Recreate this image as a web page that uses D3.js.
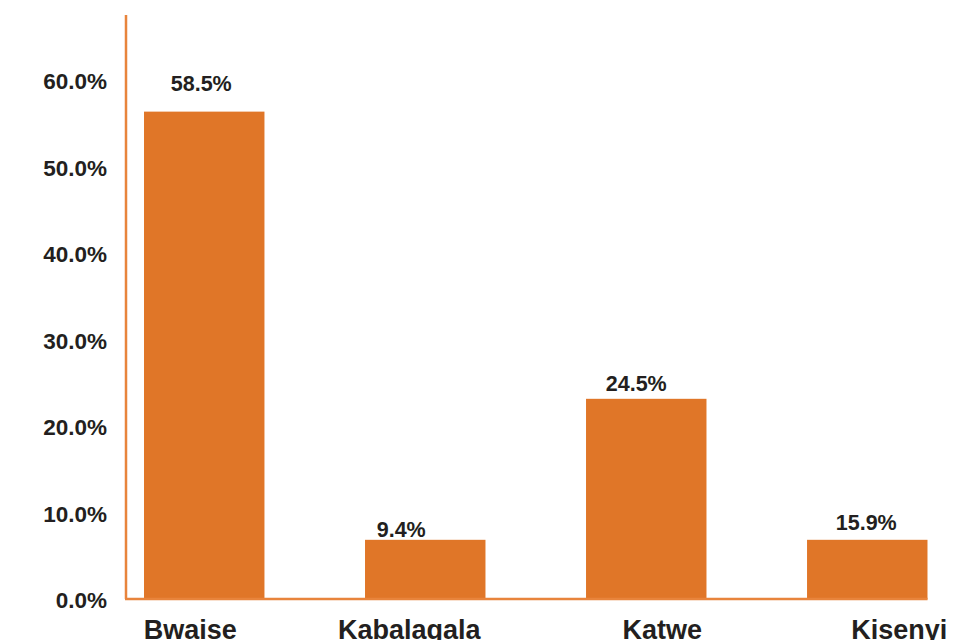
<!DOCTYPE html>
<html lang="en">
<head>
<meta charset="utf-8">
<script src="https://d3js.org/d3.v7.min.js"></script>
<style>
  body { margin: 0; background: #fff; }
  svg { display: block; }
  text { font-family: "Liberation Sans", Arial, sans-serif; font-weight: bold; fill: #231f20; }
</style>
</head>
<body>
<script>
// data
var areas = ['Bwaise', 'Kabalagala', 'Katwe', 'Kisenyi'];
var barValues = [0.564, 0.069, 0.232, 0.069];      // bar heights as drawn
var valueLabels = ['58.5%', '9.4%', '24.5%', '15.9%'];
var yTicks = [0, 0.1, 0.2, 0.3, 0.4, 0.5, 0.6];

var width = 956, height = 640;
var orange = '#e07628', axisColor = '#e8843c';

// small placement nudges so labels sit where the original put them
var labelDx = [-14, -16, 16, 32];
var valueDx = [-3, -24, -10, -1];
var valueGap = [21, 3, 8, 10];

var svg = d3.select('body').append('svg')
  .attr('width', width)
  .attr('height', height);

var x = d3.scaleBand()
  .domain(areas)
  .range([126, 945.5])
  .paddingInner(0.455)
  .paddingOuter(0.0815);

var y = d3.scaleLinear()
  .domain([0, 0.6757])
  .range([599.5, 15]);

// y axis labels
var yAxis = d3.axisLeft(y)
  .tickValues(yTicks)
  .tickSize(0)
  .tickPadding(19)
  .tickFormat(d3.format('.1%'));

var gy = svg.append('g')
  .attr('transform', 'translate(126,0)')
  .call(yAxis);
gy.select('.domain').remove();
gy.selectAll('text')
  .style('font-size', '22.5px')
  .style('font-family', '"Liberation Sans", Arial, sans-serif')
  .style('font-weight', 'bold')
  .attr('fill', '#231f20')
  .attr('dy', '0.36em');

// bars
svg.selectAll('.bar')
  .data(areas)
  .enter().append('rect')
  .attr('class', 'bar')
  .attr('x', function(d) { return x(d); })
  .attr('y', function(d, i) { return y(barValues[i]); })
  .attr('width', x.bandwidth())
  .attr('height', function(d, i) { return y(0) - y(barValues[i]); })
  .attr('fill', orange);

// axis lines
svg.append('line')
  .attr('x1', 126).attr('x2', 126)
  .attr('y1', y.range()[1]).attr('y2', y(0) - 0.5)
  .attr('stroke', axisColor).attr('stroke-width', 2.5);

svg.append('line')
  .attr('x1', 125).attr('x2', x(areas[areas.length - 1]) + x.bandwidth())
  .attr('y1', y(0) - 0.5).attr('y2', y(0) - 0.5)
  .attr('stroke', axisColor).attr('stroke-width', 2.5);

// value labels
svg.selectAll('.val')
  .data(valueLabels)
  .enter().append('text')
  .attr('class', 'val')
  .attr('x', function(d, i) { return x(areas[i]) + x.bandwidth() / 2 + valueDx[i]; })
  .attr('y', function(d, i) { return y(barValues[i]) - valueGap[i]; })
  .attr('text-anchor', 'middle')
  .style('font-size', '21.5px')
  .text(function(d) { return d; });

// category labels
svg.selectAll('.cat')
  .data(areas)
  .enter().append('text')
  .attr('class', 'cat')
  .attr('x', function(d, i) { return x(d) + x.bandwidth() / 2 + labelDx[i]; })
  .attr('y', 639)
  .attr('text-anchor', 'middle')
  .style('font-size', '27px')
  .text(function(d) { return d; });
</script>
</body>
</html>
